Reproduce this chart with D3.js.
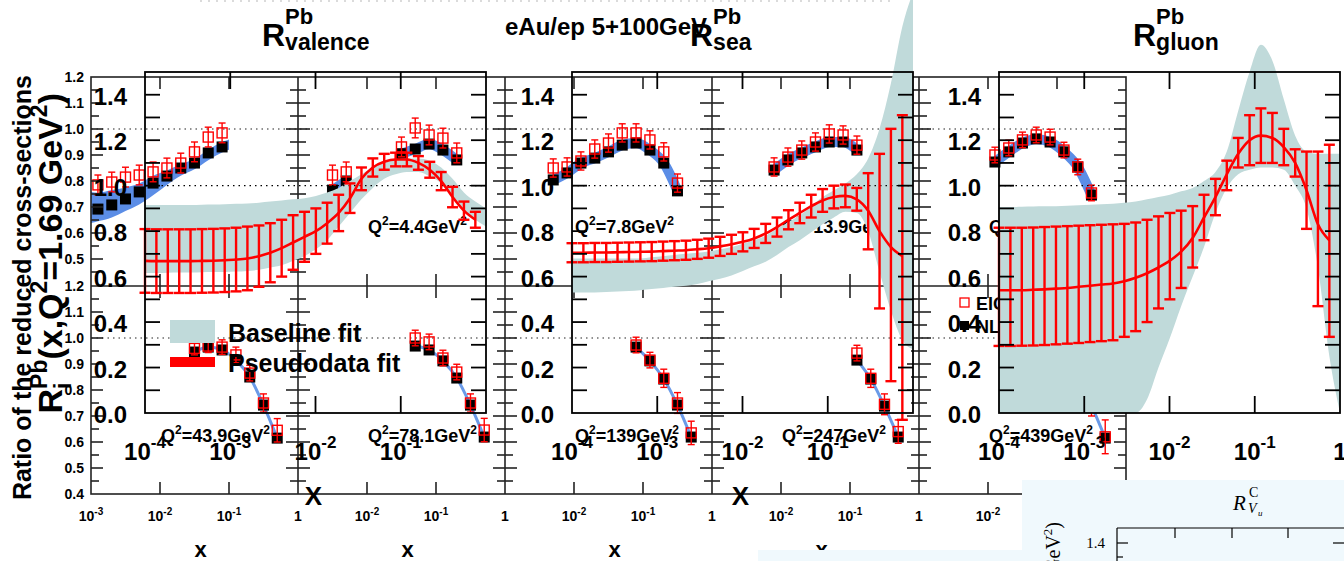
<!DOCTYPE html>
<html>
<head>
<meta charset="utf-8">
<script src="https://cdn.jsdelivr.net/npm/d3@7"></script>
<style>
  html, body { margin: 0; padding: 0; background: #fff; overflow: hidden; }
  svg { display: block; font-family: "Liberation Sans", Arial, Helvetica, sans-serif; }
</style>
</head>
<body>
<svg id="chart" width="1344" height="561"></svg>
<script>
// ---------------- reduced cross-section ratios (eAu/ep, 5+100 GeV) ----------------
const q2Labels = ['2.5', '4.4', '7.8', '13.9', '24.7', '43.9', '78.1', '139', '247', '439'];

const eicX = [
  [1.26e-3, 2.0e-3, 3.16e-3, 5.0e-3, 7.94e-3, 1.26e-2, 2.0e-2, 3.16e-2, 5.0e-2, 7.94e-2],
  [3.16e-3, 5.0e-3, 7.94e-3, 1.26e-2, 2.0e-2, 3.16e-2, 5.0e-2, 7.94e-2, 0.126, 0.2],
  [5.0e-3, 7.94e-3, 1.26e-2, 2.0e-2, 3.16e-2, 5.0e-2, 7.94e-2, 0.126, 0.2, 0.316],
  [7.94e-3, 1.26e-2, 2.0e-2, 3.16e-2, 5.0e-2, 7.94e-2, 0.126],
  [1.26e-2, 2.0e-2, 3.16e-2, 5.0e-2, 7.94e-2, 0.126, 0.2, 0.316],
  [3.16e-2, 5.0e-2, 7.94e-2, 0.126, 0.2, 0.316, 0.5],
  [5.0e-2, 7.94e-2, 0.126, 0.2, 0.316, 0.5],
  [7.94e-2, 0.126, 0.2, 0.316, 0.5],
  [0.126, 0.2, 0.316, 0.5],
  [0.2, 0.316, 0.5]
];
const nloRatio = [
  [0.692, 0.708, 0.731, 0.758, 0.792, 0.819, 0.850, 0.869, 0.908, 0.931],
  [0.765, 0.800, null, null, null, 0.905, 0.923, 0.942, 0.919, 0.881],
  [0.804, 0.831, 0.869, 0.888, 0.912, 0.938, 0.946, 0.919, 0.869, 0.762],
  [0.842, 0.881, 0.908, 0.931, 0.950, 0.950, 0.919],
  [0.873, 0.912, 0.946, 0.962, 0.950, 0.912, 0.854, 0.746],
  [0.946, 0.965, 0.954, 0.915, 0.850, 0.742, 0.615],
  [0.969, 0.954, 0.912, 0.846, 0.742, 0.619],
  [0.965, 0.912, 0.842, 0.742, 0.619],
  [0.915, 0.842, 0.738, 0.619],
  [0.845, 0.740, 0.615]
];
const eicRatio = [
  [0.785, 0.796, 0.815, 0.823, 0.835, 0.850, 0.869, 0.912, 0.969, 0.985],
  [0.823, 0.835, null, null, null, 0.931, 1.004, 0.977, 0.965, 0.908],
  [0.850, 0.854, 0.877, 0.923, 0.946, 0.985, 0.985, 0.958, 0.912, 0.792],
  [0.854, 0.892, 0.919, 0.950, 0.981, 0.977, 0.938],
  [0.900, 0.927, 0.958, 0.977, 0.969, 0.919, 0.854, 0.754],
  [0.960, 0.969, 0.965, 0.935, 0.865, 0.750, 0.645],
  [1.000, 0.985, 0.923, 0.869, 0.750, 0.646],
  [0.973, 0.915, 0.845, 0.750, 0.635],
  [0.942, 0.845, 0.745, 0.640],
  [0.850, 0.750, 0.620]
];
const eicErr = [
  [0.038, 0.038, 0.038, 0.038, 0.038, 0.038, 0.038, 0.038, 0.038, 0.038],
  [0.038, 0.038, 0.038, 0.038, 0.038, 0.038, 0.038, 0.038, 0.038, 0.038],
  [0.035, 0.035, 0.035, 0.035, 0.035, 0.035, 0.035, 0.035, 0.035, 0.035],
  [0.035, 0.035, 0.035, 0.035, 0.035, 0.035, 0.035],
  [0.030, 0.030, 0.030, 0.030, 0.030, 0.030, 0.030, 0.030],
  [0.025, 0.025, 0.028, 0.030, 0.030, 0.035, 0.045],
  [0.030, 0.030, 0.030, 0.030, 0.035, 0.045],
  [0.030, 0.030, 0.035, 0.040, 0.045],
  [0.030, 0.035, 0.040, 0.045],
  [0.040, 0.050, 0.065]
];
// NLO uncertainty band of the lowest-Q2 bin
const modelBandX  = [1.0e-3, 1.26e-3, 2.0e-3, 3.16e-3, 5.0e-3, 7.94e-3, 1.26e-2, 2.0e-2, 3.16e-2, 5.0e-2, 7.94e-2, 0.1];
const modelBandLo = [0.638, 0.645, 0.660, 0.685, 0.710, 0.745, 0.785, 0.820, 0.845, 0.880, 0.910, 0.920];
const modelBandHi = [0.758, 0.755, 0.765, 0.775, 0.790, 0.820, 0.840, 0.865, 0.885, 0.920, 0.950, 0.960];

const bgYTicks = ['1.2', '1.1', '1.0', '0.9', '0.8', '0.7', '0.6', '0.5', '0.4'];

// ---------------- nuclear modification ratios R^Pb at Q2 = 1.69 GeV2 ----------------
const fitX = [1.00e-4, 1.36e-4, 1.85e-4, 2.52e-4, 3.42e-4, 4.66e-4, 6.34e-4, 8.61e-4, 1.17e-3, 1.59e-3,
              2.17e-3, 2.95e-3, 4.01e-3, 5.46e-3, 7.43e-3, 1.01e-2, 1.37e-2, 1.87e-2, 2.54e-2, 3.46e-2,
              4.70e-2, 6.40e-2, 8.70e-2, 0.118, 0.161, 0.219, 0.298, 0.405, 0.551, 0.750];
const bandX = [1.00e-4, 1.36e-4, 1.85e-4, 2.52e-4, 3.42e-4, 4.66e-4, 6.34e-4, 8.61e-4, 1.17e-3, 1.59e-3,
               2.17e-3, 2.95e-3, 4.01e-3, 5.46e-3, 7.43e-3, 1.01e-2, 1.37e-2, 1.87e-2, 2.54e-2, 3.46e-2,
               4.70e-2, 6.40e-2, 8.70e-2, 0.118, 0.161, 0.219, 0.298, 0.405, 0.551, 0.750, 1.0];

const valenceFit  = [0.669, 0.668, 0.668, 0.668, 0.668, 0.669, 0.670, 0.672, 0.675, 0.680, 0.690, 0.705, 0.725, 0.750, 0.775,
                     0.800, 0.835, 0.880, 0.945, 1.030, 1.080, 1.105, 1.115, 1.115, 1.100, 1.070, 1.020, 0.950, 0.890, 0.850];
const valenceLow  = [0.529, 0.528, 0.528, 0.528, 0.528, 0.529, 0.530, 0.532, 0.535, 0.540, 0.555, 0.575, 0.600, 0.630, 0.665,
                     0.700, 0.745, 0.800, 0.880, 0.980, 1.040, 1.070, 1.085, 1.085, 1.070, 1.035, 0.980, 0.905, 0.850, 0.815];
const valenceHigh = [0.809, 0.808, 0.808, 0.808, 0.808, 0.809, 0.810, 0.812, 0.815, 0.820, 0.825, 0.835, 0.850, 0.870, 0.885,
                     0.900, 0.925, 0.960, 1.010, 1.080, 1.120, 1.140, 1.145, 1.145, 1.130, 1.105, 1.060, 0.995, 0.930, 0.885];
const valenceBaseHigh = [0.915, 0.915, 0.915, 0.915, 0.915, 0.916, 0.917, 0.918, 0.920, 0.922, 0.925, 0.930, 0.935, 0.940, 0.945,
                         0.955, 0.970, 0.990, 1.020, 1.050, 1.080, 1.100, 1.115, 1.120, 1.120, 1.110, 1.080, 1.030, 0.970, 0.930, 0.900];
const valenceBaseLow  = [0.616, 0.616, 0.617, 0.618, 0.618, 0.619, 0.620, 0.620, 0.622, 0.625, 0.630, 0.640, 0.650, 0.670, 0.690,
                         0.720, 0.760, 0.820, 0.880, 0.940, 0.990, 1.030, 1.050, 1.060, 1.060, 1.040, 1.010, 0.950, 0.890, 0.850, 0.820];

const seaFit  = [0.705, 0.705, 0.706, 0.706, 0.707, 0.708, 0.709, 0.710, 0.712, 0.714, 0.716, 0.720, 0.725, 0.733, 0.742,
                 0.753, 0.768, 0.790, 0.818, 0.850, 0.880, 0.910, 0.935, 0.950, 0.955, 0.940, 0.890, 0.800, 0.730, 0.690];
const seaLow  = [0.663, 0.663, 0.664, 0.664, 0.665, 0.666, 0.667, 0.668, 0.670, 0.672, 0.674, 0.678, 0.683, 0.691, 0.700,
                 0.711, 0.726, 0.748, 0.776, 0.808, 0.835, 0.860, 0.885, 0.900, 0.905, 0.890, 0.720, 0.460, 0.140, -0.030];
const seaHigh = [0.747, 0.747, 0.748, 0.748, 0.749, 0.750, 0.751, 0.752, 0.754, 0.756, 0.758, 0.762, 0.767, 0.775, 0.784,
                 0.795, 0.810, 0.832, 0.860, 0.892, 0.925, 0.960, 0.985, 1.000, 1.005, 0.990, 1.055, 1.140, 1.250, 1.310];
const seaBaseHigh = [0.680, 0.680, 0.680, 0.680, 0.680, 0.680, 0.680, 0.685, 0.690, 0.695, 0.700, 0.705, 0.710, 0.720, 0.730,
                     0.745, 0.760, 0.780, 0.810, 0.840, 0.870, 0.910, 0.950, 0.980, 1.010, 1.050, 1.120, 1.250, 1.450, 1.700, 1.850];
const seaBaseLow  = [0.530, 0.530, 0.530, 0.532, 0.535, 0.537, 0.540, 0.545, 0.550, 0.555, 0.560, 0.568, 0.580, 0.590, 0.605,
                     0.625, 0.645, 0.665, 0.695, 0.730, 0.760, 0.795, 0.830, 0.860, 0.885, 0.880, 0.800, 0.620, 0.450, 0.320, 0.280];

const gluonFit  = [0.540, 0.540, 0.540, 0.542, 0.544, 0.547, 0.550, 0.555, 0.560, 0.565, 0.570, 0.580, 0.595, 0.615, 0.640,
                   0.670, 0.710, 0.770, 0.860, 0.950, 1.050, 1.140, 1.200, 1.220, 1.210, 1.170, 1.100, 0.980, 0.830, 0.760];
const gluonLow  = [0.295, 0.295, 0.296, 0.297, 0.299, 0.302, 0.305, 0.308, 0.312, 0.316, 0.320, 0.335, 0.360, 0.400, 0.460,
                   0.500, 0.550, 0.640, 0.760, 0.870, 0.980, 1.080, 1.090, 1.100, 1.100, 1.090, 1.040, 0.810, 0.470, 0.335];
const gluonHigh = [0.815, 0.815, 0.815, 0.816, 0.818, 0.820, 0.822, 0.824, 0.826, 0.828, 0.830, 0.832, 0.838, 0.850, 0.865,
                   0.880, 0.890, 0.910, 0.960, 1.030, 1.110, 1.210, 1.310, 1.340, 1.320, 1.250, 1.160, 1.150, 1.150, 1.180];
const gluonBaseHigh = [0.906, 0.906, 0.907, 0.908, 0.909, 0.910, 0.912, 0.914, 0.916, 0.918, 0.920, 0.925, 0.930, 0.940, 0.950,
                       0.960, 0.975, 0.990, 1.020, 1.060, 1.150, 1.330, 1.500, 1.620, 1.550, 1.380, 1.220, 1.150, 1.140, 1.140, 1.140];
const gluonBaseLow  = [0.000, 0.000, 0.000, 0.000, 0.000, 0.000, 0.000, 0.000, 0.000, 0.000, 0.000, 0.000, 0.000, 0.060, 0.200,
                       0.330, 0.470, 0.600, 0.730, 0.880, 0.990, 1.050, 1.070, 1.080, 1.080, 1.070, 1.000, 0.900, 0.640, 0.250, 0.000];

const ratioYTicks = ['0.0', '0.2', '0.4', '0.6', '0.8', '1.0', '1.2', '1.4'];
const ratioXExps = [-4, -3, -2, -1];

// ---------------- drawing ----------------
const GREEN = '#c0dada', RED = '#ff0000', BLUE = '#5b8de6', BLUE_LINE = '#6a9ae8';
const svg = d3.select('#chart');
svg.append('rect').attr('width', 1344).attr('height', 561).attr('fill', '#fff');

// text made of runs with superscripts / subscripts; stack=true overlays a run on the previous one
function rich(parent, segs, x, y, anchor, opts = {}) {
  const g = parent.append('g');
  let cx = 0, prevStart = 0, prevAdv = 0;
  segs.forEach(s => {
    const t = g.append('text')
      .attr('font-size', s.fs)
      .attr('font-weight', s.fw || opts.fw || 'bold')
      .attr('font-style', s.fi || null)
      .attr('font-family', opts.family || null)
      .attr('fill', opts.fill || '#000')
      .text(s.t);
    const w = t.node().getComputedTextLength();
    let start;
    if (s.stack) { start = prevStart; prevAdv = Math.max(prevAdv, w); cx = start + prevAdv; }
    else { start = cx; prevStart = start; prevAdv = w; cx += w; }
    t.attr('x', start).attr('y', s.dy || 0);
  });
  const off = anchor === 'middle' ? -cx / 2 : anchor === 'end' ? -cx : 0;
  g.attr('transform', `translate(${x + off},${y})`);
  return g;
}
function powSegs(e, fs, sfs, rise) {
  return e === 0 ? [{ t: '1', fs }] : [{ t: '10', fs }, { t: String(e), fs: sfs, dy: -rise }];
}

// ===== reduced cross-section ratio panels =====
const bg = svg.append('g');
const bgLefts = [91, 298, 505, 712, 919], bgW = 207, bgTops = [77, 286], bgH = 208;
const bgRight = bgLefts[4] + bgW;

// dotted unity lines
bgTops.forEach(top => {
  const y = d3.scaleLinear().domain([0.4, 1.2]).range([top + bgH, top]);
  bg.append('line').attr('x1', 91).attr('x2', bgRight).attr('y1', y(1)).attr('y2', y(1))
    .attr('stroke', '#222').attr('stroke-width', 1.2).attr('stroke-dasharray', '1.5,4');
});

q2Labels.forEach((lab, k) => {
  const row = k < 5 ? 0 : 1, col = k % 5;
  const left = bgLefts[col], top = bgTops[row];
  const x = d3.scaleLog().domain([1e-3, 1]).range([left, left + bgW]);
  const y = d3.scaleLinear().domain([0.4, 1.2]).range([top + bgH, top]);
  const pts = eicX[k].map((v, i) => ({ x: v, nlo: nloRatio[k][i], eic: eicRatio[k][i], err: eicErr[k][i] }));
  const g = bg.append('g');

  if (k === 0) {
    const band = modelBandX.map((v, i) => [v, modelBandLo[i], modelBandHi[i]]);
    g.append('path').datum(band)
      .attr('d', d3.area().x(d => x(d[0])).y0(d => y(d[1])).y1(d => y(d[2])).curve(d3.curveMonotoneX))
      .attr('fill', BLUE);
  } else {
    g.append('path').datum(pts)
      .attr('d', d3.line().defined(d => d.nlo !== null).x(d => x(d.x)).y(d => y(d.nlo)).curve(d3.curveMonotoneX))
      .attr('fill', 'none')
      .attr('stroke', row === 0 ? BLUE : BLUE_LINE)
      .attr('stroke-width', row === 0 ? 10 : 3);
  }
  const vis = pts.filter(d => d.nlo !== null);
  g.selectAll('rect.nlo').data(vis).enter().append('rect')
    .attr('x', d => x(d.x) - 5.5).attr('y', d => y(d.nlo) - 5.5)
    .attr('width', 11).attr('height', 11).attr('fill', '#000');
  const eb = g.selectAll('g.eic').data(vis).enter().append('g').attr('stroke', RED).attr('stroke-width', 1.4);
  eb.append('line').attr('x1', d => x(d.x)).attr('x2', d => x(d.x))
    .attr('y1', d => y(d.eic + d.err)).attr('y2', d => y(d.eic - d.err));
  eb.append('line').attr('x1', d => x(d.x) - 3.5).attr('x2', d => x(d.x) + 3.5)
    .attr('y1', d => y(d.eic + d.err)).attr('y2', d => y(d.eic + d.err));
  eb.append('line').attr('x1', d => x(d.x) - 3.5).attr('x2', d => x(d.x) + 3.5)
    .attr('y1', d => y(d.eic - d.err)).attr('y2', d => y(d.eic - d.err));
  eb.append('rect').attr('x', d => x(d.x) - 5).attr('y', d => y(d.eic) - 5)
    .attr('width', 10).attr('height', 10).attr('fill', 'none');

  rich(g, [{ t: 'Q', fs: 18 }, { t: '2', fs: 12, dy: -8 }, { t: '=' + lab + 'GeV', fs: 18 }, { t: '2', fs: 12, dy: -8 }],
    left + 70, top + 156, 'start');
});

// frames and ticks
const frame = bg.append('g').attr('stroke', '#222').attr('stroke-width', 1.6).attr('fill', 'none');
frame.append('rect').attr('x', 91).attr('y', 77).attr('width', bgRight - 91).attr('height', 2 * bgH + 1);
frame.append('line').attr('x1', 91).attr('x2', bgRight).attr('y1', 286).attr('y2', 286);
bgLefts.slice(1).forEach(xl => frame.append('line').attr('x1', xl).attr('x2', xl).attr('y1', 77).attr('y2', 494));
const colLines = [...bgLefts, bgRight];
bgTops.forEach(top => {
  const y = d3.scaleLinear().domain([0.4, 1.2]).range([top + bgH, top]);
  d3.range(0.45, 1.19, 0.05).forEach(v => {
    const major = Math.abs(v * 10 - Math.round(v * 10)) < 1e-6;
    const len = major ? 12 : 8;
    colLines.forEach((xl, ci) => {
      if (ci > 0) frame.append('line').attr('x1', xl - len).attr('x2', xl).attr('y1', y(v)).attr('y2', y(v));
      if (ci < colLines.length - 1) frame.append('line').attr('x1', xl).attr('x2', xl + len).attr('y1', y(v)).attr('y2', y(v));
    });
  });
});
bgLefts.forEach(left => {
  const x = d3.scaleLog().domain([1e-3, 1]).range([left, left + bgW]);
  [1e-2, 1e-1].forEach(v => {
    frame.append('line').attr('x1', x(v)).attr('x2', x(v)).attr('y1', 77).attr('y2', 89);
    frame.append('line').attr('x1', x(v)).attr('x2', x(v)).attr('y1', 274).attr('y2', 298);
    frame.append('line').attr('x1', x(v)).attr('x2', x(v)).attr('y1', 482).attr('y2', 494);
  });
});

// axis labels
bgTops.forEach((top, r) => {
  const y = d3.scaleLinear().domain([0.4, 1.2]).range([top + bgH, top]);
  bgYTicks.forEach(t => {
    if (r === 0 && t === '0.4') return;
    bg.append('text').attr('x', 84).attr('y', y(+t) + 5).attr('text-anchor', 'end')
      .attr('font-size', 14).attr('font-weight', 'bold').text(t);
  });
});
bgLefts.forEach((left, ci) => {
  const x = d3.scaleLog().domain([1e-3, 1]).range([left, left + bgW]);
  const exps = ci === 0 ? [-3, -2, -1, 0] : [-2, -1, 0];
  exps.forEach(e => rich(bg, powSegs(e, 14, 10, 6), x(Math.pow(10, e)), 521, 'middle'));
  bg.append('text').attr('x', left + bgW / 2 + 6).attr('y', 557).attr('text-anchor', 'middle')
    .attr('font-size', 22).attr('font-weight', 'bold').text('x');
});
{
  const t = bg.append('g').attr('transform', 'translate(31,75) rotate(-90)');
  t.append('text').attr('text-anchor', 'end').attr('font-size', 25).attr('font-weight', 'bold')
    .text('Ratio of the reduced cross-sections');
}
bg.append('text').attr('x', 505).attr('y', 35).attr('font-size', 24).attr('font-weight', 'bold')
  .text('eAu/ep 5+100GeV');
bg.append('line').attr('x1', 200).attr('x2', 890).attr('y1', 1).attr('y2', 1)
  .attr('stroke', '#d0d0d0').attr('stroke-width', 1.5).attr('stroke-dasharray', '2,6');
// legend
bg.append('rect').attr('x', 960).attr('y', 298).attr('width', 9).attr('height', 9)
  .attr('fill', 'none').attr('stroke', RED).attr('stroke-width', 1.3);
bg.append('text').attr('x', 976).attr('y', 310).attr('font-size', 18).attr('font-weight', 'bold').text('EIC pseudodata');
bg.append('rect').attr('x', 960).attr('y', 321).attr('width', 9).attr('height', 9).attr('fill', '#000');
bg.append('text').attr('x', 976).attr('y', 333).attr('font-size', 18).attr('font-weight', 'bold').text('NLO');

// ===== R^Pb ratio panels =====
const mid = svg.append('g');
const midTop = 72, midBot = 413, midW = 341;
const yR = d3.scaleLinear().domain([0, 1.5]).range([midBot, midTop]);
const ratioPanels = [
  { left: 145, sub: 'valence', fit: valenceFit, lo: valenceLow, hi: valenceHigh, bHi: valenceBaseHigh, bLo: valenceBaseLow, title: 262, lastLabel: false },
  { left: 572, sub: 'sea', fit: seaFit, lo: seaLow, hi: seaHigh, bHi: seaBaseHigh, bLo: seaBaseLow, title: 690, lastLabel: false },
  { left: 999, sub: 'gluon', fit: gluonFit, lo: gluonLow, hi: gluonHigh, bHi: gluonBaseHigh, bLo: gluonBaseLow, title: 1133, lastLabel: true }
];
ratioPanels.forEach(p => {
  const x = d3.scaleLog().domain([1e-4, 1]).range([p.left, p.left + midW]);
  const g = mid.append('g');
  const band = bandX.map((v, i) => [v, p.bLo[i], p.bHi[i]]);
  g.append('path').datum(band)
    .attr('d', d3.area().x(d => x(d[0])).y0(d => yR(d[1])).y1(d => yR(d[2])).curve(d3.curveMonotoneX))
    .attr('fill', GREEN);
  g.append('line').attr('x1', p.left).attr('x2', p.left + midW).attr('y1', yR(1)).attr('y2', yR(1))
    .attr('stroke', '#000').attr('stroke-width', 1.2).attr('stroke-dasharray', '1.5,4');

  const pts = fitX.map((v, i) => ({ x: v, c: p.fit[i], lo: p.lo[i], hi: p.hi[i] }));
  const eb = g.append('g').attr('stroke', RED).attr('stroke-width', 2.4);
  pts.forEach(d => {
    const xx = x(d.x);
    eb.append('line').attr('x1', xx).attr('x2', xx).attr('y1', yR(d.hi)).attr('y2', yR(d.lo));
    eb.append('line').attr('x1', xx - 5.5).attr('x2', xx + 5.5).attr('y1', yR(d.hi)).attr('y2', yR(d.hi));
    eb.append('line').attr('x1', xx - 5.5).attr('x2', xx + 5.5).attr('y1', yR(d.lo)).attr('y2', yR(d.lo));
  });
  g.append('path').datum(pts)
    .attr('d', d3.line().x(d => x(d.x)).y(d => yR(d.c)).curve(d3.curveMonotoneX))
    .attr('fill', 'none').attr('stroke', RED).attr('stroke-width', 2.6);

  // frame and ticks
  const f = g.append('g').attr('stroke', '#000').attr('stroke-width', 1.8).attr('fill', 'none');
  f.append('rect').attr('x', p.left).attr('y', midTop).attr('width', midW).attr('height', midBot - midTop);
  d3.range(0.1, 1.45, 0.1).forEach(v => {
    f.append('line').attr('x1', p.left).attr('x2', p.left + 15).attr('y1', yR(v)).attr('y2', yR(v));
    f.append('line').attr('x1', p.left + midW - 15).attr('x2', p.left + midW).attr('y1', yR(v)).attr('y2', yR(v));
  });
  [1e-3, 1e-2, 1e-1].forEach(v => {
    f.append('line').attr('x1', x(v)).attr('x2', x(v)).attr('y1', midTop).attr('y2', midTop + 17);
    f.append('line').attr('x1', x(v)).attr('x2', x(v)).attr('y1', midBot - 17).attr('y2', midBot);
  });

  // labels
  ratioYTicks.forEach(t => {
    g.append('text').attr('x', p.left - 18).attr('y', yR(+t) + 10).attr('text-anchor', 'end')
      .attr('font-size', 24).attr('font-weight', 'bold').text(t);
  });
  const exps = p.lastLabel ? [...ratioXExps, 0] : ratioXExps;
  exps.forEach(e => rich(g, powSegs(e, 24, 17, 12), x(Math.pow(10, e)), 460, 'middle'));
  g.append('text').attr('x', p.left + midW / 2 - 2).attr('y', 505).attr('text-anchor', 'middle')
    .attr('font-size', 26).attr('font-weight', 'bold').text('X');
  rich(g, [{ t: 'R', fs: 32 }, { t: 'Pb', fs: 22, dy: -22 }, { t: p.sub, fs: 23, dy: 4, stack: true }], p.title, 46, 'start');
});
// legend
mid.append('rect').attr('x', 170).attr('y', 320).attr('width', 45).attr('height', 23).attr('fill', GREEN);
mid.append('text').attr('x', 228).attr('y', 342).attr('font-size', 25).attr('font-weight', 'bold').text('Baseline fit');
mid.append('rect').attr('x', 170).attr('y', 357).attr('width', 45).attr('height', 10).attr('fill', RED);
mid.append('text').attr('x', 228).attr('y', 372).attr('font-size', 25).attr('font-weight', 'bold').text('Pseudodata fit');
{
  const t = mid.append('g').attr('transform', 'translate(62,93) rotate(-90)');
  rich(t, [
    { t: 'R', fs: 34 }, { t: 'i', fs: 23, dy: 9 }, { t: 'Pb', fs: 23, dy: -15, stack: true },
    { t: '(x,Q', fs: 34 }, { t: '2', fs: 23, dy: -15 }, { t: '=1.69 GeV', fs: 34 }, { t: '2', fs: 23, dy: -15 }, { t: ')', fs: 34 }
  ], 0, 0, 'end');
}

// ===== charm valence ratio panel (partly shown) =====
const cv = svg.append('g');
cv.append('rect').attr('x', 1022).attr('y', 480).attr('width', 322).attr('height', 81).attr('fill', '#f0f9fd');
cv.append('rect').attr('x', 758).attr('y', 550).attr('width', 264).attr('height', 11).attr('fill', '#f0f9fd');
const serif = '"Liberation Serif", "DejaVu Serif", serif';
cv.append('text').attr('x', 1233).attr('y', 510).attr('font-family', serif).attr('font-style', 'italic').attr('font-size', 21).text('R');
cv.append('text').attr('x', 1249).attr('y', 497).attr('font-family', serif).attr('font-size', 14).text('C');
cv.append('text').attr('x', 1248).attr('y', 513).attr('font-family', serif).attr('font-style', 'italic').attr('font-size', 14).text('V');
cv.append('text').attr('x', 1258).attr('y', 516).attr('font-family', serif).attr('font-style', 'italic').attr('font-size', 9).text('u');
{
  const t = cv.append('g').attr('transform', 'translate(1060,522) rotate(-90)');
  rich(t, [{ t: '(x, Q', fs: 20 }, { t: '2', fs: 13, dy: -8 }, { t: ' = 1.69 GeV', fs: 20 }, { t: '2', fs: 13, dy: -8 }, { t: ')', fs: 20 }],
    0, 0, 'end', { family: serif, fw: 'normal' });
}
cv.append('text').attr('x', 1105).attr('y', 548).attr('text-anchor', 'end').attr('font-family', serif).attr('font-size', 15).text('1.4');
const cf = cv.append('g').attr('stroke', '#000').attr('stroke-width', 1.2);
cf.append('line').attr('x1', 1117).attr('x2', 1344).attr('y1', 528).attr('y2', 528);
cf.append('line').attr('x1', 1117).attr('x2', 1117).attr('y1', 528).attr('y2', 561);
[1175, 1232, 1288].forEach(xx => cf.append('line').attr('x1', xx).attr('x2', xx).attr('y1', 528).attr('y2', 538));
cf.append('line').attr('x1', 1117).attr('x2', 1128).attr('y1', 543).attr('y2', 543);
cf.append('line').attr('x1', 1117).attr('x2', 1123).attr('y1', 557).attr('y2', 557);
cf.append('line').attr('x1', 1333).attr('x2', 1344).attr('y1', 543).attr('y2', 543);
</script>
</body>
</html>
